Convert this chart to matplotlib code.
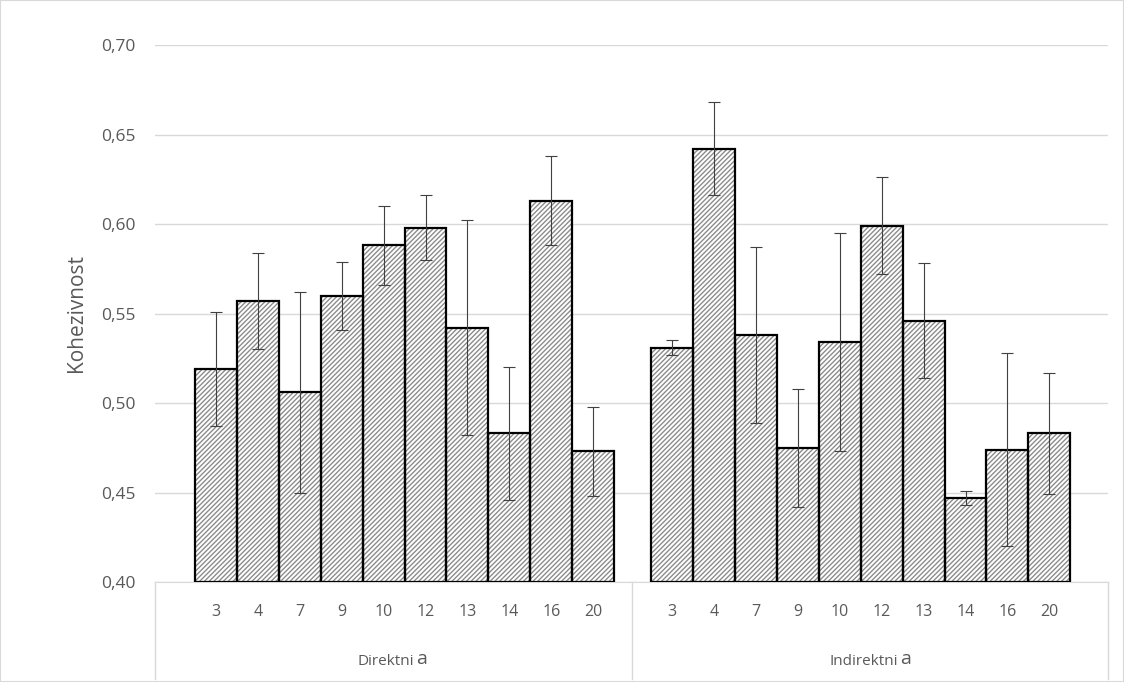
import numpy as np
import matplotlib
matplotlib.use("Agg")
import matplotlib.pyplot as plt
from matplotlib.patches import Rectangle

plt.rcParams['font.family'] = ['Open Sans', 'DejaVu Sans']

doses = ['3', '4', '7', '9', '10', '12', '13', '14', '16', '20']
groups = ['Direktni', 'Indirektni']
direktni = [0.519, 0.557, 0.506, 0.560, 0.588, 0.598, 0.542, 0.483, 0.613, 0.473]
direktni_err = [0.032, 0.027, 0.056, 0.019, 0.022, 0.018, 0.060, 0.037, 0.025, 0.025]
indirektni = [0.531, 0.642, 0.538, 0.475, 0.534, 0.599, 0.546, 0.447, 0.474, 0.483]
indirektni_err = [0.004, 0.026, 0.049, 0.033, 0.061, 0.027, 0.032, 0.004, 0.054, 0.034]

fig = plt.figure(figsize=(11.24, 6.82), dpi=100)
fig.patches.append(Rectangle((0, 0), 1, 1, transform=fig.transFigure,
                             fill=False, edgecolor='#d9d9d9', lw=1.5))
ax = fig.add_axes([155/1124, 100/682, 953/1124, 537/682])

grey = '#595959'
starts = [0.955, 11.84]
for start, vals, errs in zip(starts, [direktni, indirektni], [direktni_err, indirektni_err]):
    x = start + 0.5 + np.arange(len(vals))
    ax.bar(x, np.array(vals) - 0.4, bottom=0.4, width=1.0, color='white',
           edgecolor='#8c8c8c', hatch='///////', lw=0, zorder=2)
    ax.bar(x, np.array(vals) - 0.4, bottom=0.4, width=1.0, fill=False,
           edgecolor='black', lw=1.6, zorder=3)
    ax.errorbar(x, vals, yerr=errs, fmt='none', ecolor='#404040', elinewidth=0.8,
                capsize=4, capthick=0.8, zorder=4)
    for xi, d in zip(x, doses):
        ax.text(xi, -0.055, d, transform=ax.get_xaxis_transform(), ha='center',
                va='center', fontsize=11.5, color=grey)

ax.set_xlim(0, 22.74)
ax.set_ylim(0.40, 0.70)
yt = np.arange(0.40, 0.701, 0.05)
ax.set_yticks(yt)
ax.set_yticklabels([f'{v:.2f}'.replace('.', ',') for v in yt], fontsize=12.5, color=grey)
ax.tick_params(axis='y', length=0, pad=14)
ax.set_xticks([])
ax.grid(axis='y', color='#d9d9d9', lw=1, zorder=0)
for s in ['top', 'right', 'left']:
    ax.spines[s].set_visible(False)
ax.spines['bottom'].set_color('#d9d9d9')
ax.set_ylabel('Kohezivnost', fontsize=15, color=grey, labelpad=10)

# category axis separators and group labels
trans = ax.get_xaxis_transform()
for xs in [0, 11.37, 22.74]:
    ax.plot([xs, xs], [0, -0.18], transform=trans, color='#d9d9d9', lw=1, clip_on=False)
for cx, g in zip([5.5, 16.9], groups):
    t = ax.text(cx, -0.148, g, transform=trans, ha='center', va='center',
                fontsize=11, color=grey)
    ax.annotate('a', xy=(1, 0.5), xycoords=t, xytext=(2, 2), textcoords='offset points',
                ha='left', va='center', fontsize=14, color=grey)

fig.savefig('out.png', dpi=100)
